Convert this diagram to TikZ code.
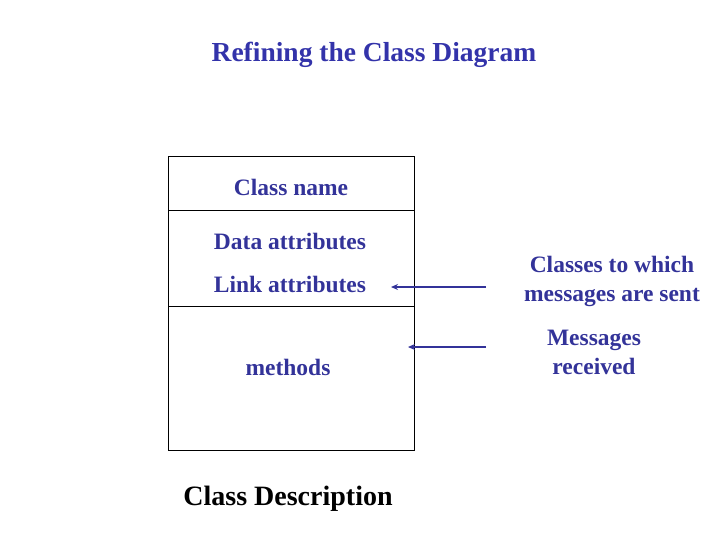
\documentclass[tikz,border=0pt]{standalone}
\usepackage{fontspec}
\setmainfont{Liberation Serif}
\usetikzlibrary{arrows.meta}
\definecolor{textblue}{RGB}{51,51,153}
\definecolor{titleblue}{RGB}{51,51,170}
\begin{document}
\begin{tikzpicture}[x=1pt,y=-1pt,
    compart/.style={draw=black,line width=0.9pt,minimum width=246pt,inner sep=0pt,anchor=north west},
    blabel/.style={textblue,font=\bfseries\fontsize{23.5}{29}\selectfont,align=center},
    msgarrow/.style={textblue,line width=1.4pt,-{Stealth[length=7pt,width=6pt]}}]
  \useasboundingbox (0,0) rectangle (720,540);
  \node[titleblue,font=\bfseries\fontsize{27.5}{30}\selectfont] (title) at (374,55)
    {Refining the Class Diagram};
  % the three compartments of the class box
  \node[compart,minimum height=54pt] (namebox) at (168,156) {};
  \node[compart,minimum height=96pt] (attrbox) at (168,210) {};
  \node[compart,minimum height=144pt] (methbox) at (168,306) {};
  \node[blabel] (cname) at (291,187) {Class name};
  \node[blabel] (dattr) at (290,241) {Data attributes};
  \node[blabel] (lattr) at (290,284) {Link attributes};
  \node[blabel] (meth) at (288,367) {methods};
  \node[font=\bfseries\fontsize{28}{30}\selectfont] (desc) at (288,499)
    {Class Description};
  % notes on the right
  \node[blabel] (sent) at (612,281) {Classes to which\\messages are sent};
  \node[blabel] (recv) at (594,352) {Messages\\received};
  \coordinate (sentin) at (391,287);
  \coordinate (recvin) at (408,347);
  \coordinate (sentout) at (486,287);
  \coordinate (recvout) at (486,347);
  \draw[msgarrow] (sentout) -- (sentin);
  \draw[msgarrow] (recvout) -- (recvin);
\end{tikzpicture}
\end{document}
